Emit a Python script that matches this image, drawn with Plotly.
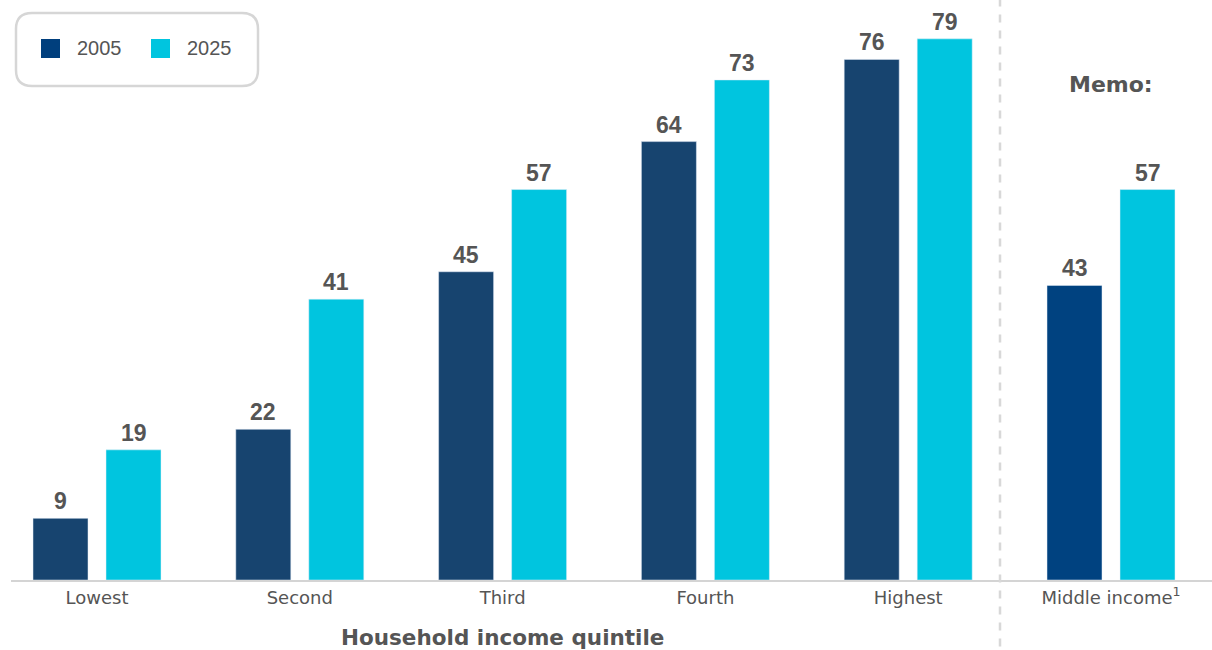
import plotly.graph_objects as go

# Share of households (%) by income quintile, plus a memo item
categories = ["Lowest", "Second", "Third", "Fourth", "Highest", "Middle income<sup>1</sup>"]
values_2005 = [9, 22, 45, 64, 76, 43]
values_2025 = [19, 41, 57, 73, 79, 57]
series_names = ["2005", "2025"]

C_2005 = "#17446f"
C_2005_MEMO = "#004280"
C_2025 = "#00c5df"
TEXT = "#555555"
GRID = "#d4d4d4"
LABEL_FONT = "DejaVu Sans"
NUM_FONT = "Liberation Sans, Arial"

W, H = 1212, 650
ML, MR, MT, MB = 11, 0, 10, 70
plot_w, plot_h = W - ML - MR, H - MT - MB

x_pos = list(range(len(categories)))
cat_step = 202.8           # pixels per category
first_center = 97          # pixel centre of the first category
x_min = (ML - first_center) / cat_step
x_max = (W - MR - first_center) / cat_step
bar_w = 55 / cat_step
inner_gap = 18 / cat_step

y_max = plot_h / 6.85


def px_to_paper(px, py):
    return (px - ML) / plot_w, (H - MB - py) / plot_h


fig = go.Figure()
fig.add_trace(go.Bar(
    x=x_pos, y=values_2005, name=series_names[0],
    marker_color=[C_2005] * 5 + [C_2005_MEMO],
    width=bar_w, offset=-(bar_w + inner_gap / 2),
    showlegend=False, hoverinfo="skip",
))
fig.add_trace(go.Bar(
    x=x_pos, y=values_2025, name=series_names[1],
    marker_color=C_2025,
    width=bar_w, offset=inner_gap / 2,
    showlegend=False, hoverinfo="skip",
))

annotations = []
# value labels above each bar
for i, (a, b) in enumerate(zip(values_2005, values_2025)):
    for v, dx in ((a, -(bar_w + inner_gap) / 2), (b, (bar_w + inner_gap) / 2)):
        annotations.append(dict(
            x=i + dx, y=v, xref="x", yref="y", text=f"<b>{v}</b>",
            showarrow=False, yanchor="bottom", yshift=2,
            font=dict(family=NUM_FONT, size=23, color=TEXT),
        ))

# axis title for the quintile group
annotations.append(dict(
    x=2, y=px_to_paper(0, 637)[1], xref="x", yref="paper",
    text="<b>Household income quintile</b>", showarrow=False, yanchor="middle",
    font=dict(family=LABEL_FONT, size=21.5, color=TEXT),
))

# memo heading
annotations.append(dict(
    x=5, y=px_to_paper(0, 85)[1], xref="x", yref="paper", text="<b>Memo:</b>",
    showarrow=False, yanchor="middle",
    font=dict(family=LABEL_FONT, size=22, color=TEXT),
))

shapes = []
# dashed separator between quintiles and memo
sep_x = (1000 - first_center) / cat_step
shapes.append(dict(
    type="line", xref="x", yref="paper", x0=sep_x, x1=sep_x,
    y0=1.02, y1=-MB / plot_h, line=dict(color="#d8d8d8", width=2.5, dash="8px,8px"),
))


# legend: rounded frame, swatches and labels
def rounded_rect(x0, y0, x1, y1, r):
    # corners in pixels, path in paper coordinates
    def p(px, py):
        a, b = px_to_paper(px, py)
        return f"{a:.5f},{b:.5f}"
    return (f"M{p(x0 + r, y0)} L{p(x1 - r, y0)} Q{p(x1, y0)} {p(x1, y0 + r)} "
            f"L{p(x1, y1 - r)} Q{p(x1, y1)} {p(x1 - r, y1)} L{p(x0 + r, y1)} "
            f"Q{p(x0, y1)} {p(x0, y1 - r)} L{p(x0, y0 + r)} Q{p(x0, y0)} {p(x0 + r, y0)} Z")


shapes.append(dict(type="path", xref="paper", yref="paper",
                   path=rounded_rect(16, 13, 258, 86, 16),
                   line=dict(color="#d6d6d6", width=2.5), fillcolor="white"))

for sx, tx, color, label in ((41, 75, "#003f7d", series_names[0]),
                             (151, 185, C_2025, series_names[1])):
    a0, b0 = px_to_paper(sx, 39)
    a1, b1 = px_to_paper(sx + 19, 58)
    shapes.append(dict(type="rect", xref="paper", yref="paper",
                       x0=a0, x1=a1, y0=b1, y1=b0, fillcolor=color, line_width=0))
    tx_p, ty_p = px_to_paper(tx, 48)
    annotations.append(dict(
        x=tx_p, y=ty_p, xref="paper", yref="paper", text=label, showarrow=False,
        xanchor="left", yanchor="middle",
        font=dict(family=NUM_FONT, size=20, color=TEXT),
    ))

fig.update_layout(
    width=W, height=H, margin=dict(l=ML, r=MR, t=MT, b=MB),
    plot_bgcolor="white", paper_bgcolor="white",
    barmode="overlay", showlegend=False,
    annotations=annotations, shapes=shapes,
    xaxis=dict(
        range=[x_min, x_max], tickmode="array", tickvals=x_pos, ticktext=categories,
        showgrid=False, zeroline=False, showline=True, linecolor=GRID, linewidth=2,
        ticks="", tickfont=dict(family=LABEL_FONT, size=18, color=TEXT),
    ),
    yaxis=dict(range=[0, y_max], visible=False, fixedrange=True),
)

fig.write_html("out.html")
